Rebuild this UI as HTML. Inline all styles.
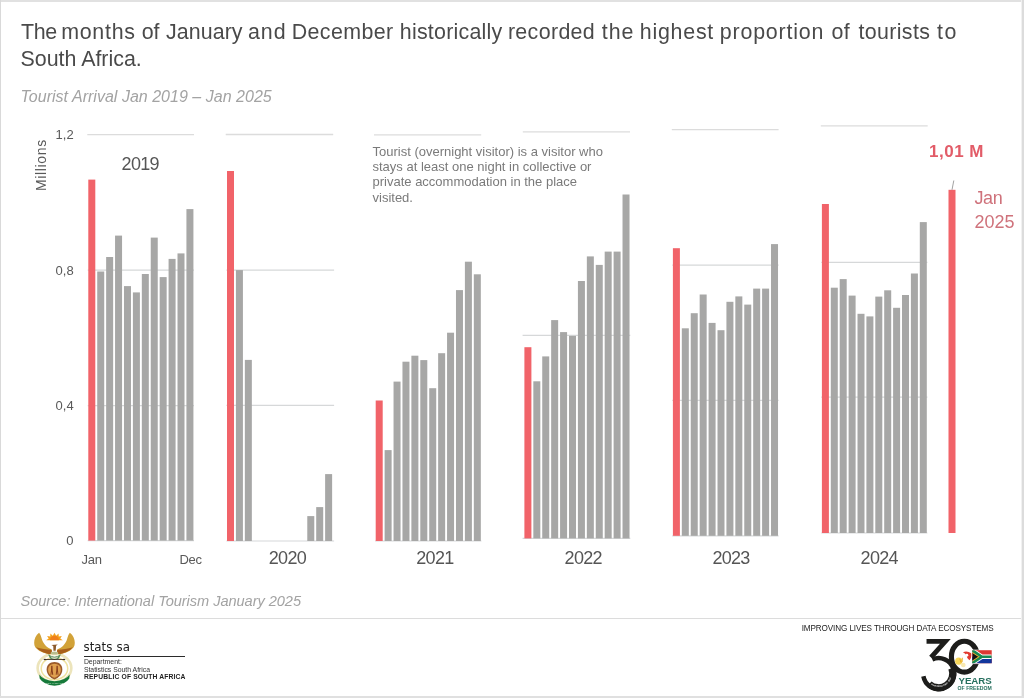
<!DOCTYPE html>
<html lang="en">
<head>
<meta charset="utf-8">
<title>Tourist Arrival Jan 2019 – Jan 2025</title>
<style>
html,body{margin:0;padding:0;background:#fff;}
body{width:1024px;height:698px;overflow:hidden;position:relative;font-family:"Liberation Sans",Arial,sans-serif;}
#frame{position:absolute;left:0;top:0;width:1024px;height:698px;overflow:hidden;will-change:transform;}
.bd{position:absolute;background:#dcdcdc;}
.abs{position:absolute;white-space:nowrap;line-height:1;}
.title{color:#4a4a4a;font-size:21.4px;left:20.5px;}
.sub{color:#a3a3a3;font-style:italic;font-size:16px;left:20.5px;}
.ax{color:#595959;font-size:13px;}
.yr{color:#555;font-size:18px;letter-spacing:-0.7px;}
.note{color:#7a7a7a;font-size:13px;line-height:15.35px;left:372.5px;top:143.5px;white-space:nowrap;position:absolute;}
.red{color:#cf727b;}
svg{position:absolute;left:0;top:0;}
</style>
</head>
<body>
<div id="frame">
<svg width="1024" height="698" viewBox="0 0 1024 698" shape-rendering="auto">
<line x1="87.3" x2="194.0" y1="134.6" y2="134.6" stroke="#dcdcdc" stroke-width="1.4"/>
<line x1="87.7" x2="194.0" y1="270.2" y2="270.2" stroke="#d6d8d9" stroke-width="1.2"/>
<line x1="87.7" x2="194.0" y1="405.6" y2="405.6" stroke="#d6d8d9" stroke-width="1.2"/>
<line x1="87.7" x2="194.0" y1="540.6" y2="540.6" stroke="#d6d8d9" stroke-width="1.2"/>
<rect x="88.30" y="179.6" width="7.0" height="361.00" fill="#f16369"/>
<rect x="97.22" y="271.5" width="7.0" height="269.10" fill="#a7a7a6"/>
<rect x="106.14" y="257.0" width="7.0" height="283.60" fill="#a7a7a6"/>
<rect x="115.06" y="235.6" width="7.0" height="305.00" fill="#a7a7a6"/>
<rect x="123.98" y="286.1" width="7.0" height="254.50" fill="#a7a7a6"/>
<rect x="132.90" y="292.4" width="7.0" height="248.20" fill="#a7a7a6"/>
<rect x="141.82" y="274.0" width="7.0" height="266.60" fill="#a7a7a6"/>
<rect x="150.74" y="237.6" width="7.0" height="303.00" fill="#a7a7a6"/>
<rect x="159.66" y="277.1" width="7.0" height="263.50" fill="#a7a7a6"/>
<rect x="168.58" y="258.9" width="7.0" height="281.70" fill="#a7a7a6"/>
<rect x="177.50" y="253.4" width="7.0" height="287.20" fill="#a7a7a6"/>
<rect x="186.42" y="209.1" width="7.0" height="331.50" fill="#a7a7a6"/>
<line x1="225.7" x2="333.2" y1="134.5" y2="134.5" stroke="#dcdcdc" stroke-width="1.4"/>
<line x1="226.4" x2="334.1" y1="270.2" y2="270.2" stroke="#d6d8d9" stroke-width="1.2"/>
<line x1="226.4" x2="334.1" y1="405.4" y2="405.4" stroke="#d6d8d9" stroke-width="1.2"/>
<line x1="226.4" x2="334.1" y1="541.0" y2="541.0" stroke="#d6d8d9" stroke-width="1.2"/>
<rect x="227.00" y="171.0" width="7.0" height="370.00" fill="#f16369"/>
<rect x="235.92" y="270.1" width="7.0" height="270.90" fill="#a7a7a6"/>
<rect x="244.84" y="359.9" width="7.0" height="181.10" fill="#a7a7a6"/>
<rect x="307.28" y="516.1" width="7.0" height="24.90" fill="#a7a7a6"/>
<rect x="316.20" y="507.1" width="7.0" height="33.90" fill="#a7a7a6"/>
<rect x="325.12" y="474.1" width="7.0" height="66.90" fill="#a7a7a6"/>
<line x1="374.0" x2="481.2" y1="134.9" y2="134.9" stroke="#dcdcdc" stroke-width="1.4"/>
<line x1="375.1" x2="481.4" y1="541.0" y2="541.0" stroke="#d6d8d9" stroke-width="1.2"/>
<rect x="375.70" y="400.5" width="7.0" height="140.50" fill="#f16369"/>
<rect x="384.62" y="450.1" width="7.0" height="90.90" fill="#a7a7a6"/>
<rect x="393.54" y="381.6" width="7.0" height="159.40" fill="#a7a7a6"/>
<rect x="402.46" y="361.7" width="7.0" height="179.30" fill="#a7a7a6"/>
<rect x="411.38" y="355.7" width="7.0" height="185.30" fill="#a7a7a6"/>
<rect x="420.30" y="360.1" width="7.0" height="180.90" fill="#a7a7a6"/>
<rect x="429.22" y="388.2" width="7.0" height="152.80" fill="#a7a7a6"/>
<rect x="438.14" y="353.2" width="7.0" height="187.80" fill="#a7a7a6"/>
<rect x="447.06" y="332.7" width="7.0" height="208.30" fill="#a7a7a6"/>
<rect x="455.98" y="290.1" width="7.0" height="250.90" fill="#a7a7a6"/>
<rect x="464.90" y="261.7" width="7.0" height="279.30" fill="#a7a7a6"/>
<rect x="473.82" y="274.3" width="7.0" height="266.70" fill="#a7a7a6"/>
<line x1="522.8" x2="630.0" y1="131.9" y2="131.9" stroke="#dcdcdc" stroke-width="1.4"/>
<line x1="522.6" x2="630.3" y1="335.3" y2="335.3" stroke="#d6d8d9" stroke-width="1.2"/>
<line x1="522.6" x2="630.3" y1="538.4" y2="538.4" stroke="#d6d8d9" stroke-width="1.2"/>
<rect x="524.40" y="347.2" width="7.0" height="191.20" fill="#f16369"/>
<rect x="533.32" y="381.3" width="7.0" height="157.10" fill="#a7a7a6"/>
<rect x="542.24" y="356.4" width="7.0" height="182.00" fill="#a7a7a6"/>
<rect x="551.16" y="320.1" width="7.0" height="218.30" fill="#a7a7a6"/>
<rect x="560.08" y="332.1" width="7.0" height="206.30" fill="#a7a7a6"/>
<rect x="569.00" y="335.9" width="7.0" height="202.50" fill="#a7a7a6"/>
<rect x="577.92" y="281.0" width="7.0" height="257.40" fill="#a7a7a6"/>
<rect x="586.84" y="256.4" width="7.0" height="282.00" fill="#a7a7a6"/>
<rect x="595.76" y="264.9" width="7.0" height="273.50" fill="#a7a7a6"/>
<rect x="604.68" y="251.6" width="7.0" height="286.80" fill="#a7a7a6"/>
<rect x="613.60" y="251.6" width="7.0" height="286.80" fill="#a7a7a6"/>
<rect x="622.52" y="194.5" width="7.0" height="343.90" fill="#a7a7a6"/>
<line x1="671.8" x2="778.6" y1="129.6" y2="129.6" stroke="#dcdcdc" stroke-width="1.4"/>
<line x1="672.3" x2="778.6" y1="265.2" y2="265.2" stroke="#d6d8d9" stroke-width="1.2"/>
<line x1="672.3" x2="778.6" y1="400.4" y2="400.4" stroke="#d6d8d9" stroke-width="1.2"/>
<line x1="672.3" x2="778.6" y1="535.8" y2="535.8" stroke="#d6d8d9" stroke-width="1.2"/>
<rect x="672.90" y="248.2" width="7.0" height="287.60" fill="#f16369"/>
<rect x="681.82" y="328.3" width="7.0" height="207.50" fill="#a7a7a6"/>
<rect x="690.74" y="313.2" width="7.0" height="222.60" fill="#a7a7a6"/>
<rect x="699.66" y="294.5" width="7.0" height="241.30" fill="#a7a7a6"/>
<rect x="708.58" y="322.9" width="7.0" height="212.90" fill="#a7a7a6"/>
<rect x="717.50" y="330.2" width="7.0" height="205.60" fill="#a7a7a6"/>
<rect x="726.42" y="301.8" width="7.0" height="234.00" fill="#a7a7a6"/>
<rect x="735.34" y="296.4" width="7.0" height="239.40" fill="#a7a7a6"/>
<rect x="744.26" y="304.6" width="7.0" height="231.20" fill="#a7a7a6"/>
<rect x="753.18" y="288.6" width="7.0" height="247.20" fill="#a7a7a6"/>
<rect x="762.10" y="288.6" width="7.0" height="247.20" fill="#a7a7a6"/>
<rect x="771.02" y="244.1" width="7.0" height="291.70" fill="#a7a7a6"/>
<line x1="820.8" x2="927.7" y1="125.9" y2="125.9" stroke="#dcdcdc" stroke-width="1.4"/>
<line x1="821.3" x2="927.4" y1="262.3" y2="262.3" stroke="#d6d8d9" stroke-width="1.2"/>
<line x1="821.3" x2="927.4" y1="397.2" y2="397.2" stroke="#d6d8d9" stroke-width="1.2"/>
<line x1="821.3" x2="927.4" y1="533.0" y2="533.0" stroke="#d6d8d9" stroke-width="1.2"/>
<rect x="821.90" y="204.0" width="7.0" height="329.00" fill="#f16369"/>
<rect x="830.80" y="287.7" width="7.0" height="245.30" fill="#a7a7a6"/>
<rect x="839.70" y="279.1" width="7.0" height="253.90" fill="#a7a7a6"/>
<rect x="848.60" y="295.6" width="7.0" height="237.40" fill="#a7a7a6"/>
<rect x="857.50" y="313.8" width="7.0" height="219.20" fill="#a7a7a6"/>
<rect x="866.40" y="316.4" width="7.0" height="216.60" fill="#a7a7a6"/>
<rect x="875.30" y="296.6" width="7.0" height="236.40" fill="#a7a7a6"/>
<rect x="884.20" y="290.3" width="7.0" height="242.70" fill="#a7a7a6"/>
<rect x="893.10" y="307.8" width="7.0" height="225.20" fill="#a7a7a6"/>
<rect x="902.00" y="295.0" width="7.0" height="238.00" fill="#a7a7a6"/>
<rect x="910.90" y="273.5" width="7.0" height="259.50" fill="#a7a7a6"/>
<rect x="919.80" y="222.1" width="7.0" height="310.90" fill="#a7a7a6"/>
<rect x="948.5" y="189.8" width="7" height="343.20" fill="#f16369"/>
<line x1="953.8" y1="180.5" x2="952.0" y2="189.8" stroke="#8a8a8a" stroke-width="0.8"/>
</svg>

<div class="abs title" id="t1" style="top:22.3px;width:940px;height:26px;"><span style="position:absolute;left:0.5px;top:0;letter-spacing:-0.39px;">The</span> <span style="position:absolute;left:40.7px;top:0;letter-spacing:0.73px;">months</span> <span style="position:absolute;left:121.3px;top:0;letter-spacing:-0.22px;">of</span> <span style="position:absolute;left:145.5px;top:0;letter-spacing:0.07px;">January</span> <span style="position:absolute;left:227.4px;top:0;letter-spacing:1.0px;">and</span> <span style="position:absolute;left:271.2px;top:0;letter-spacing:0.39px;">December</span> <span style="position:absolute;left:379.3px;top:0;letter-spacing:0.24px;">historically</span> <span style="position:absolute;left:487.4px;top:0;letter-spacing:0.35px;">recorded</span> <span style="position:absolute;left:581.3px;top:0;letter-spacing:0.9px;">the</span> <span style="position:absolute;left:619.3px;top:0;letter-spacing:0.75px;">highest</span> <span style="position:absolute;left:699.3px;top:0;letter-spacing:0.81px;">proportion</span> <span style="position:absolute;left:811.0px;top:0;letter-spacing:0.3px;">of</span> <span style="position:absolute;left:838.0px;top:0;letter-spacing:0.35px;">tourists</span> <span style="position:absolute;left:916.5px;top:0;letter-spacing:1.5px;">to</span></div>
<div class="abs title" style="top:49.3px;">South Africa.</div>
<div class="abs sub" style="top:88.6px;letter-spacing:0.02px;">Tourist Arrival Jan 2019 – Jan 2025</div>

<div class="abs ax" style="left:55.6px;top:128px;">1,2</div>
<div class="abs ax" style="left:55.6px;top:263.6px;">0,8</div>
<div class="abs ax" style="left:55.6px;top:399.3px;">0,4</div>
<div class="abs ax" style="left:66.3px;top:533.7px;">0</div>
<div class="abs ax" style="left:81.5px;top:552.6px;letter-spacing:-0.3px;">Jan</div>
<div class="abs ax" style="left:179.5px;top:552.6px;letter-spacing:-0.3px;">Dec</div>
<div class="abs" id="millions" style="left:33.9px;top:190.6px;font-size:14px;color:#595959;transform-origin:0 0;transform:rotate(-90deg);letter-spacing:0.65px;">Millions</div>

<div class="abs yr" style="left:121.6px;top:155.4px;">2019</div>
<div class="abs yr" style="left:268.8px;top:549.2px;">2020</div>
<div class="abs yr" style="left:416.3px;top:549.2px;">2021</div>
<div class="abs yr" style="left:564.6px;top:549.2px;">2022</div>
<div class="abs yr" style="left:712.4px;top:549.2px;">2023</div>
<div class="abs yr" style="left:860.6px;top:549.2px;">2024</div>

<div class="note">Tourist (overnight visitor) is a visitor who<br>stays at least one night in collective or<br>private accommodation in the place<br>visited.</div>

<div class="abs red" style="left:929px;top:142.6px;font-size:17px;font-weight:bold;letter-spacing:0.5px;color:#e25c68;">1,01 M</div>
<div class="abs red" style="left:974.5px;top:189px;font-size:18px;letter-spacing:-0.4px;">Jan</div>
<div class="abs red" style="left:974.5px;top:212.7px;font-size:18px;">2025</div>

<div class="abs sub" style="top:593.6px;font-size:14.6px;letter-spacing:-0.05px;">Source: International Tourism January 2025</div>
<div class="bd" style="left:0;top:618px;width:1024px;height:1px;background:#dcdcdc;"></div>

<!-- coat of arms: drawn in 10.57x zoomed coords -->
<svg style="left:28px;top:626px;" width="54" height="66" viewBox="0 0 571 698">
<defs><filter id="sb" x="-10%" y="-10%" width="120%" height="120%"><feGaussianBlur stdDeviation="2.2"/></filter></defs>
<g filter="url(#sb)" transform="translate(-3 0)">
<!-- tusks / oval -->
<ellipse cx="283" cy="445" rx="178" ry="150" fill="none" stroke="#ece4bb" stroke-width="28"/>
<ellipse cx="283" cy="450" rx="140" ry="118" fill="none" stroke="#efe2a0" stroke-width="16"/>
<!-- green ribbon -->
<path d="M122 512 Q165 574 283 584 Q401 574 444 512 L440 556 Q398 622 283 632 Q168 622 126 556 Z" fill="#187a3a"/>
<!-- wings -->
<path d="M120 72 C70 110 55 180 80 225 C110 265 170 290 235 300 C255 285 262 262 250 245 C205 230 165 190 150 140 C142 110 135 90 120 72 Z" fill="#d2a238"/>
<path d="M88 225 C120 262 175 288 235 300 C252 287 260 268 252 250 C200 250 140 240 88 225 Z" fill="#a9601c"/>
<path d="M446 72 C496 110 511 180 486 225 C456 265 396 290 331 300 C311 285 304 262 316 245 C361 230 401 190 416 140 C424 110 431 90 446 72 Z" fill="#d2a238"/>
<path d="M478 225 C446 262 391 288 331 300 C314 287 306 268 314 250 C366 250 426 240 478 225 Z" fill="#a9601c"/>
<!-- sun -->
<path d="M195 150 L222 132 L205 105 L238 112 L240 80 L265 102 L283 72 L301 102 L326 80 L328 112 L361 105 L344 132 L371 150 Z" fill="#f3a11e"/>
<path d="M235 152 A48 48 0 0 1 331 152 Z" fill="#ef7f1a"/>
<!-- bird head/body -->
<path d="M250 200 L318 196 L300 210 L296 262 L272 262 L270 212 Z" fill="#8c5a2b"/>
<ellipse cx="283" cy="286" rx="40" ry="16" fill="#b9bd8f"/>
<!-- protea -->
<path d="M215 300 Q283 350 351 300 L330 345 Q283 372 236 345 Z" fill="#4f8a5a"/>
<path d="M240 318 Q283 350 326 318 L312 342 Q283 358 254 342 Z" fill="#d8d9c0"/>
<!-- spear & knobkierie -->
<rect x="172" y="350" width="222" height="9" fill="#3a2a22"/>
<ellipse cx="182" cy="354" rx="14" ry="8" fill="#3a2a22"/><ellipse cx="384" cy="354" rx="14" ry="8" fill="#3a2a22"/>
<!-- shield -->
<path d="M283 382 C330 384 366 408 366 460 C366 510 330 548 283 566 C236 548 200 510 200 460 C200 408 236 384 283 382 Z" fill="#9b5a2a"/>
<path d="M283 398 C320 400 350 420 350 462 C350 502 320 534 283 548 C246 534 216 502 216 462 C216 420 246 400 283 398 Z" fill="#e0a050"/>
<path d="M248 420 L262 420 L264 470 L270 515 L258 515 L255 480 L250 515 L240 515 L246 470 Z M304 420 L318 420 L320 470 L326 515 L316 515 L311 480 L306 515 L296 515 L302 470 Z" fill="#8a3f1c"/>
</g>
<text x="280" y="618" font-size="20" text-anchor="middle" fill="#d8ead9" font-family="'Liberation Sans',sans-serif" textLength="180">!KE E: /XARRA //KE</text>
</svg>

<div class="abs" style="left:83.6px;top:642.2px;font-family:'DejaVu Sans','Liberation Sans',sans-serif;font-size:11.8px;color:#1c1c1c;word-spacing:0.5px;">stats sa</div>
<div class="bd" style="left:83.9px;top:655.8px;width:101.5px;height:1px;background:#2b2b2b;"></div>
<div class="abs" style="left:83.9px;top:659.3px;font-size:6.9px;color:#333;">Department:</div>
<div class="abs" style="left:83.9px;top:666.5px;font-size:6.85px;color:#333;">Statistics South Africa</div>
<div class="abs" style="left:83.9px;top:674.1px;font-size:6.75px;font-weight:bold;color:#1e1e1e;letter-spacing:0.14px;">REPUBLIC OF SOUTH AFRICA</div>

<div class="abs" style="left:801.7px;top:624.9px;font-size:8.15px;color:#1c1c1c;letter-spacing:-0.105px;">IMPROVING LIVES THROUGH DATA ECOSYSTEMS</div>

<!-- 30 years logo: drawn in 11.26x zoomed coords -->
<svg style="left:910px;top:632px;" width="90" height="62" viewBox="0 0 1013 698">
<defs>
<clipPath id="ft"><path d="M0,0 l45,30 l-45,30z"/></clipPath>
<clipPath id="ff"><path d="M0,0 h90 v60 h-90z"/></clipPath>
<path id="arc30" d="M 233.8 589.4 A 150 150 0 0 0 464.7 421.6"/>
</defs>
<!-- zero -->
<ellipse cx="612" cy="278" rx="146" ry="174" fill="none" stroke="#1d1d1b" stroke-width="58"/>
<!-- emblem inside zero -->
<circle cx="612" cy="290" r="105" fill="#fff"/>
<circle cx="548" cy="328" r="40" fill="#f6d65a"/>
<circle cx="600" cy="372" r="26" fill="#f9e9b0"/>
<path d="M596 228 Q640 205 690 240 Q700 285 668 318 Q640 300 636 262 Q620 240 596 228 Z" fill="#e23b30"/>
<circle cx="640" cy="262" r="16" fill="#fff"/>
<path d="M560 300 L575 345 M590 290 L585 340" stroke="#e9a51f" stroke-width="10"/>
<!-- three -->
<path d="M186 105 H398 L236 286" fill="none" stroke="#1d1d1b" stroke-width="54" stroke-linejoin="miter"/>
<path d="M 251.2 309.0 A 174 174 0 1 1 150.6 498.2" fill="none" stroke="#1d1d1b" stroke-width="50"/>
<path d="M 470.3 408.1 A 160 160 0 0 1 214.9 586.9" fill="none" stroke="#1d1d1b" stroke-width="82"/>
<text font-size="24" font-weight="bold" fill="#fff" font-family="'Liberation Sans',sans-serif" letter-spacing="0"><textPath href="#arc30" startOffset="2">South Africa 1994 - 2024</textPath></text>
<!-- flag -->
<rect x="694" y="199" width="232" height="162" fill="#fff"/>
<g transform="translate(700 205) scale(2.444)">
<path d="M0,0 v60 h90 v-60z" fill="#de3831"/>
<path d="M0,30 h90 v30 h-90z" fill="#12369c"/>
<g clip-path="url(#ff)">
<path d="M90,30 H45 L0,0 M45,30 L0,60" stroke="#fff" stroke-width="20" fill="none"/>
<path d="M0,0 l45,30 l-45,30" fill="#111" stroke="#f5b82e" stroke-width="20" clip-path="url(#ft)"/>
<path d="M0,0 l45,30 h45 M0,60 l45,-30" stroke="#1a8a52" stroke-width="12" fill="none"/>
</g>
</g>
<text x="545" y="590" font-size="112" font-weight="bold" fill="#27705f" font-family="'Liberation Sans',sans-serif" textLength="376" lengthAdjust="spacingAndGlyphs">YEARS</text>
<text x="536" y="650" font-size="55" font-weight="bold" fill="#27705f" font-family="'Liberation Sans',sans-serif" textLength="384" lengthAdjust="spacingAndGlyphs">OF FREEDOM</text>
</svg>


<div class="bd" style="left:0;top:0;width:1024px;height:2px;background:#e1e1e1;"></div>
<div class="bd" style="left:0;top:0;width:1px;height:698px;background:#d9d9d9;"></div>
<div class="bd" style="right:0;top:0;width:3px;height:698px;background:linear-gradient(90deg,#f1f1f1 0,#f1f1f1 1px,#dcdcdc 1px,#dcdcdc 3px);"></div>
<div class="bd" style="left:0;bottom:0;width:1024px;height:2px;background:#e0e0e0;"></div>
</div>
</body>
</html>
